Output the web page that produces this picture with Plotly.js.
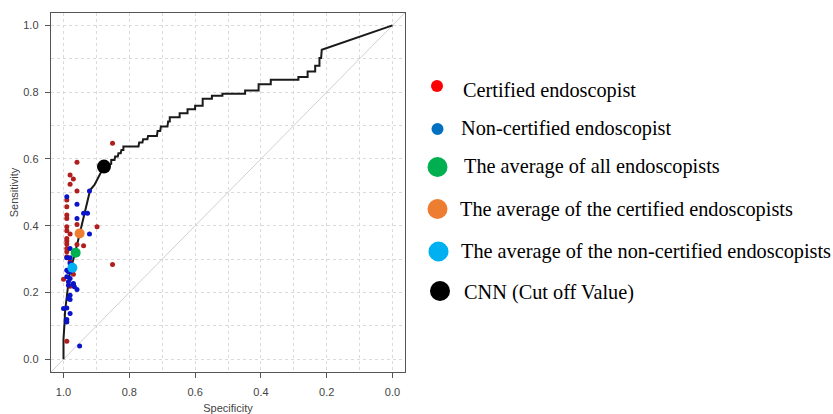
<!DOCTYPE html>
<html>
<head>
<meta charset="utf-8">
<script src="https://cdn.plot.ly/plotly-3.0.1.min.js"></script>
<style>
  html, body { margin: 0; padding: 0; background: #ffffff; }
  #chart { width: 833px; height: 414px; }
</style>
</head>
<body>
<div id="chart"></div>
<script>
// ROC curve of the CNN (specificity, sensitivity)
const rocSpec = [1.000, 1.000, 0.997, 0.995, 0.990, 0.986, 0.983, 0.980, 0.974, 0.970, 0.964, 0.959, 0.954, 0.949, 0.944, 0.939, 0.934, 0.929, 0.925, 0.919, 0.906, 0.898, 0.893, 0.885, 0.877,
  0.862, 0.855, 0.855, 0.845, 0.843, 0.835, 0.833, 0.826, 0.824, 0.818, 0.818, 0.772, 0.770, 0.760, 0.758, 0.745, 0.743, 0.716, 0.714, 0.706, 0.704, 0.684, 0.682, 0.677, 0.677, 0.647, 0.647, 0.623, 0.623, 0.600, 0.600, 0.577, 0.577, 0.549, 0.549, 0.517, 0.517, 0.448, 0.448, 0.407, 0.407, 0.370, 0.370, 0.286, 0.286, 0.258, 0.258, 0.235, 0.235, 0.222, 0.222, 0.217, 0.215, 0.000];
const rocSens = [0.000, 0.060, 0.107, 0.147, 0.187, 0.227, 0.245, 0.262, 0.282, 0.302, 0.322, 0.342, 0.362, 0.382, 0.402, 0.422, 0.442, 0.462, 0.482, 0.507, 0.522, 0.537, 0.550, 0.565, 0.577,
  0.582, 0.585, 0.597, 0.597, 0.607, 0.607, 0.617, 0.617, 0.627, 0.627, 0.637, 0.637, 0.649, 0.649, 0.659, 0.659, 0.669, 0.669, 0.684, 0.684, 0.697, 0.697, 0.712, 0.712, 0.725, 0.725, 0.737, 0.737, 0.749, 0.749, 0.759, 0.759, 0.780, 0.780, 0.789, 0.789, 0.795, 0.795, 0.805, 0.805, 0.824, 0.824, 0.837, 0.837, 0.845, 0.845, 0.862, 0.862, 0.879, 0.879, 0.902, 0.902, 0.927, 1.000];

// Certified endoscopists
const certSpec = [0.851, 0.959, 0.980, 0.970, 0.980, 0.959, 0.990, 0.990, 0.990, 0.990, 0.959, 0.898, 0.990, 0.990, 0.980, 0.990, 0.990, 0.990, 0.959, 0.939, 0.990, 0.990, 0.990, 0.980, 0.851, 0.970, 1.000, 0.980, 0.990];
const certSens = [0.647, 0.590, 0.552, 0.540, 0.524, 0.504, 0.477, 0.457, 0.432, 0.422, 0.404, 0.397, 0.397, 0.385, 0.375, 0.362, 0.354, 0.345, 0.344, 0.340, 0.332, 0.322, 0.307, 0.292, 0.284, 0.255, 0.240, 0.219, 0.054];

// Non-certified endoscopists
const nonSpec = [0.921, 0.990, 0.959, 0.959, 0.939, 0.927, 0.921, 0.980, 0.990, 0.980, 0.980, 0.990, 0.985, 0.980, 0.990, 0.980, 0.985, 0.970, 0.985, 0.970, 0.967, 0.959, 0.980, 0.985, 0.980, 1.000, 0.990, 0.980, 0.990, 0.990, 0.951];
const nonSens = [0.504, 0.487, 0.464, 0.422, 0.437, 0.437, 0.375, 0.332, 0.304, 0.304, 0.287, 0.267, 0.262, 0.262, 0.247, 0.242, 0.232, 0.227, 0.222, 0.225, 0.217, 0.209, 0.192, 0.182, 0.179, 0.152, 0.154, 0.137, 0.119, 0.112, 0.040];

// Averages and CNN cut-off
const avgAllSpec = [0.963], avgAllSens = [0.319];
const avgCertSpec = [0.951], avgCertSens = [0.377];
const avgNonSpec = [0.973], avgNonSens = [0.274];
const cnnSpec = [0.877], cnnSens = [0.577];

// Tick labels
const tickVals = [0, 0.2, 0.4, 0.6, 0.8, 1.0];
const tickText = ['0.0', '0.2', '0.4', '0.6', '0.8', '1.0'];

// Legend (drawn as a key on the right)
const legendLabels = ['Certified endoscopist', 'Non-certified endoscopist', 'The average of all endoscopists',
  'The average of the certified endoscopists', 'The average of the non-certified endoscopists', 'CNN (Cut off Value)'];
const legendColors = ['#FF0000', '#0070C0', '#00B050', '#ED7D31', '#00B0F0', '#000000'];
const legendDotSize = [12, 12, 20, 20, 20, 20];
const legendDotPx = [[437, 86], [437.5, 129], [437.5, 167], [437.5, 209], [438.5, 251.5], [440, 291]];
const legendTextPx = [[461, 90], [459, 128.7], [461.5, 166.7], [458, 209], [459, 251.7], [461.5, 292]];

const W = 833, H = 414;
const M = {l: 51, r: 428, t: 13, b: 42};
const pw = W - M.l - M.r, ph = H - M.t - M.b;
const px2x = p => (p - M.l) / pw;
const py2y = p => (H - M.b - p) / ph;

const traces = [
  {x: rocSpec, y: rocSens, type: 'scatter', mode: 'lines', line: {color: '#1a1a1a', width: 2}, hoverinfo: 'skip'},
  {x: certSpec, y: certSens, type: 'scatter', mode: 'markers', marker: {color: '#B01E1E', size: 5}},
  {x: nonSpec, y: nonSens, type: 'scatter', mode: 'markers', marker: {color: '#0A14C8', size: 5}},
  {x: avgCertSpec, y: avgCertSens, type: 'scatter', mode: 'markers', marker: {color: '#ED7D31', size: 10}},
  {x: avgAllSpec, y: avgAllSens, type: 'scatter', mode: 'markers', marker: {color: '#00B050', size: 10}},
  {x: avgNonSpec, y: avgNonSens, type: 'scatter', mode: 'markers', marker: {color: '#00B0F0', size: 10}},
  {x: cnnSpec, y: cnnSens, type: 'scatter', mode: 'markers', marker: {color: '#000000', size: 14}}
];

const shapes = [
  {type: 'line', xref: 'x', yref: 'y', x0: 1.2, y0: -0.2, x1: -0.2, y1: 1.2, layer: 'between',
   line: {color: '#D0D0D0', width: 1}}
];
const annotations = [];
legendLabels.forEach((lab, i) => {
  const r = legendDotSize[i] / 2;
  shapes.push({type: 'circle', xref: 'paper', yref: 'paper', xsizemode: 'pixel', ysizemode: 'pixel',
    xanchor: px2x(legendDotPx[i][0]), yanchor: py2y(legendDotPx[i][1]),
    x0: -r, x1: r, y0: -r, y1: r, fillcolor: legendColors[i], line: {width: 0}});
  annotations.push({text: lab, xref: 'paper', yref: 'paper', x: px2x(legendTextPx[i][0]), y: py2y(legendTextPx[i][1]),
    xanchor: 'left', yanchor: 'middle', showarrow: false,
    font: {family: 'Liberation Serif, Times New Roman, serif', size: 20.3, color: '#000000'}});
});

const axisCommon = {
  showline: true, mirror: true, linecolor: '#555555', linewidth: 1.3,
  ticks: 'outside', ticklen: 5, tickcolor: '#555555', tickwidth: 1,
  tickvals: tickVals, ticktext: tickText,
  tickfont: {family: 'Liberation Sans, Arial, sans-serif', size: 11, color: '#444444'},
  showgrid: true, gridcolor: '#DADADA', griddash: 'dot', gridwidth: 1,
  minor: {dtick: 0.1, tick0: 0, showgrid: true, gridcolor: '#DADADA', griddash: 'dot', gridwidth: 1, ticks: ''},
  zeroline: false, fixedrange: true
};

const layout = {
  width: W, height: H, margin: M,
  paper_bgcolor: '#ffffff', plot_bgcolor: '#ffffff',
  showlegend: false,
  xaxis: Object.assign({}, axisCommon, {range: [1.038, -0.038], ticklabelstandoff: 4,
    title: {text: 'Specificity', standoff: 9, font: {family: 'Liberation Sans, Arial, sans-serif', size: 11, color: '#444444'}}}),
  yaxis: Object.assign({}, axisCommon, {range: [-0.038, 1.037], ticklabelstandoff: 4,
    title: {text: 'Sensitivity', standoff: 2, font: {family: 'Liberation Sans, Arial, sans-serif', size: 11, color: '#444444'}}}),
  shapes: shapes,
  annotations: annotations
};

Plotly.newPlot('chart', traces, layout, {staticPlot: true, displayModeBar: false});
</script>
</body>
</html>
